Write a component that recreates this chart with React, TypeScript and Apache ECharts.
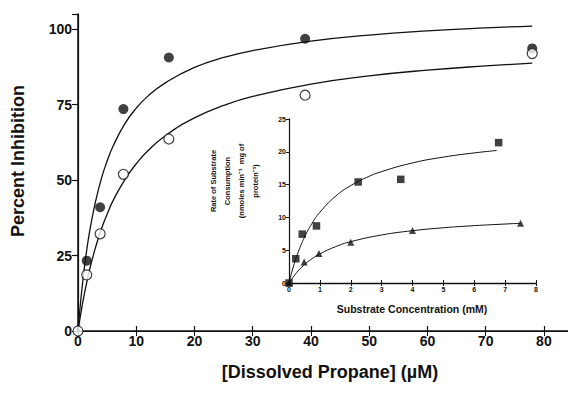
import React, { useEffect, useRef } from "react";
import * as echarts from "echarts";

// Main chart: percent inhibition vs dissolved propane (µM)
const filledX = [1.5, 3.8, 7.8, 15.6, 39, 78];
const filledY = [23.3, 41, 73.5, 90.6, 96.8, 93.6];
const openX = [0, 1.5, 3.8, 7.8, 15.6, 39, 78];
const openY = [0, 18.6, 32.2, 51.9, 63.6, 78.1, 91.9];

// Fitted curves
const curveX = [0, 0.5, 1, 1.5, 2, 3, 4, 5, 6, 8, 10, 12, 15, 20, 25, 30, 40, 50, 60, 70, 78];
const filledCurveY = [0, 10.7, 19.5, 26.8, 33.0, 42.8, 50.4, 56.3, 61.1, 68.5, 73.8, 77.8, 82.2, 87.3, 90.6, 92.9, 96.0, 98.0, 99.4, 100.4, 101.0];
const openCurveY = [0, 6.0, 11.4, 16.1, 20.4, 27.6, 33.7, 38.7, 43.1, 50.0, 55.4, 59.7, 64.7, 70.6, 74.7, 77.7, 81.8, 84.5, 86.4, 87.8, 88.7];

// Inset: rate of substrate consumption vs substrate concentration (mM)
const squareX = [0, 0.22, 0.43, 0.89, 2.24, 3.62, 6.79];
const squareY = [0, 3.7, 7.45, 8.7, 15.4, 15.8, 21.4];
const triX = [0, 0.49, 0.97, 2.0, 4.0, 7.5];
const triY = [0, 3.2, 4.5, 6.2, 8.0, 9.1];

const sqCurveX = [0, 0.1, 0.2, 0.3, 0.5, 0.75, 1, 1.5, 2, 2.5, 3, 4, 5, 6, 6.73];
const sqCurveY = [0, 1.82, 3.38, 4.73, 6.97, 9.12, 10.78, 13.19, 14.85, 16.06, 16.98, 18.3, 19.19, 19.83, 20.2];
const triCurveX = [0, 0.25, 0.5, 0.75, 1, 1.5, 2, 3, 4, 5, 6, 7, 7.5];
const triCurveY = [0, 1.6, 2.79, 3.71, 4.44, 5.52, 6.3, 7.32, 7.97, 8.42, 8.74, 8.99, 9.1];

const mainXTicks = [0, 10, 20, 30, 40, 50, 60, 70, 80];
const mainYTicks = [0, 25, 50, 75, 100];

const zip = (xs: number[], ys: number[]) => xs.map((x, i) => [x, ys[i]]);

const FONT = "'Liberation Sans', Arial, sans-serif";
const INK = "#111";

export default function App() {
  const ref = useRef<HTMLDivElement>(null);
  useEffect(() => {
    if (!ref.current) return;
    const chart = echarts.init(ref.current, undefined, { renderer: "svg" });
    const lineStyle = { color: INK, width: 1.3 };
    const thin = { color: INK, width: 1 };
    chart.setOption({
      animation: false,
      backgroundColor: "#fff",
      grid: [
        { left: 78, top: 14, width: 500, height: 317 },
        { left: 289, top: 119, width: 247, height: 164 },
      ],
      xAxis: [
        {
          type: "value", gridIndex: 0, min: 0, max: 85, interval: 10, position: "bottom",
          axisLine: { show: true, lineStyle: { color: INK, width: 1.5 } },
          axisTick: { show: true, inside: true, length: 5, lineStyle: { color: INK, width: 1.2 } },
          axisLabel: {
            margin: 3, color: INK, fontFamily: FONT, fontWeight: "bold", fontSize: 14,
            formatter: (v: number) => (mainXTicks.includes(v) ? String(v) : ""),
          },
          splitLine: { show: false },
        },
        {
          type: "value", gridIndex: 0, min: 0, max: 85, interval: 10, position: "top",
          axisLine: { show: true, lineStyle: { color: INK, width: 1.2 } },
          axisTick: { show: true, inside: true, length: 5, lineStyle: { color: INK, width: 1 } },
          axisLabel: { show: false },
          splitLine: { show: false },
        },
        {
          type: "value", gridIndex: 1, min: 0, max: 8, interval: 1, position: "bottom",
          axisLine: { show: true, lineStyle: { color: INK, width: 1.4 } },
          axisTick: { show: true, inside: true, length: 3, lineStyle: thin },
          axisLabel: { margin: 3, color: INK, fontFamily: FONT, fontWeight: "bold", fontSize: 7 },
          splitLine: { show: false },
        },
        {
          type: "value", gridIndex: 1, min: 0, max: 8, interval: 1, position: "top",
          axisLine: { show: true, lineStyle: { color: INK, width: 0.8 } },
          axisTick: { show: true, inside: true, length: 3, lineStyle: thin },
          axisLabel: { show: false },
          splitLine: { show: false },
        },
      ],
      yAxis: [
        {
          type: "value", gridIndex: 0, min: 0, max: 105, interval: 25, position: "left",
          axisLine: { show: true, lineStyle: { color: INK, width: 1.5 } },
          axisTick: { show: true, inside: false, length: 5, lineStyle: { color: INK, width: 1.2 } },
          axisLabel: {
            margin: 6, color: INK, fontFamily: FONT, fontWeight: "bold", fontSize: 14,
            formatter: (v: number) => (mainYTicks.includes(v) ? String(v) : ""),
          },
          splitLine: { show: false },
        },
        {
          type: "value", gridIndex: 0, min: 0, max: 105, interval: 25, position: "right",
          axisLine: { show: true, lineStyle: { color: INK, width: 1.2 } },
          axisTick: { show: true, inside: true, length: 6, lineStyle: { color: INK, width: 1 } },
          axisLabel: { show: false },
          splitLine: { show: false },
        },
        {
          type: "value", gridIndex: 1, min: 0, max: 25, interval: 5, position: "left",
          axisLine: { show: true, lineStyle: { color: "#333", width: 0.9, type: [4, 1] } },
          axisTick: { show: true, inside: false, length: 2, lineStyle: thin },
          axisLabel: { margin: 3, color: INK, fontFamily: FONT, fontWeight: "bold", fontSize: 7 },
          splitLine: { show: false },
        },
        {
          type: "value", gridIndex: 1, min: 0, max: 25, interval: 5, position: "right",
          axisLine: { show: true, lineStyle: { color: INK, width: 1.2 } },
          axisTick: { show: true, inside: true, length: 3, lineStyle: thin },
          axisLabel: { show: false },
          splitLine: { show: false },
        },
      ],
      series: [
        {
          type: "line", xAxisIndex: 0, yAxisIndex: 0, data: zip(curveX, filledCurveY),
          smooth: true, showSymbol: false, symbol: "none", lineStyle, z: 2,
        },
        {
          type: "line", xAxisIndex: 0, yAxisIndex: 0, data: zip(curveX, openCurveY),
          smooth: true, showSymbol: false, symbol: "none", lineStyle, z: 2,
        },
        {
          type: "scatter", xAxisIndex: 0, yAxisIndex: 0, data: zip(filledX, filledY),
          symbol: "circle", symbolSize: 10, itemStyle: { color: INK }, z: 3,
        },
        {
          type: "scatter", xAxisIndex: 0, yAxisIndex: 0, data: zip(openX, openY),
          symbol: "circle", symbolSize: 10,
          itemStyle: { color: "#fff", borderColor: INK, borderWidth: 1.2 }, z: 4,
        },
        {
          type: "line", xAxisIndex: 2, yAxisIndex: 2, data: zip(sqCurveX, sqCurveY),
          smooth: true, showSymbol: false, symbol: "none", lineStyle: { color: INK, width: 1 }, z: 2,
        },
        {
          type: "line", xAxisIndex: 2, yAxisIndex: 2, data: zip(triCurveX, triCurveY),
          smooth: true, showSymbol: false, symbol: "none", lineStyle: { color: INK, width: 1 }, z: 2,
        },
        {
          type: "scatter", xAxisIndex: 2, yAxisIndex: 2, data: zip(squareX, squareY),
          symbol: "rect", symbolSize: 7.5, itemStyle: { color: INK }, z: 3,
        },
        {
          type: "scatter", xAxisIndex: 2, yAxisIndex: 2, data: zip(triX, triY),
          symbol: "triangle", symbolSize: 7, itemStyle: { color: INK }, z: 3,
        },
      ],
      graphic: [
        {
          type: "text", x: 18, y: 161, rotation: Math.PI / 2,
          style: {
            text: "Percent Inhibition", fill: INK, font: `bold 18px ${FONT}`,
            textAlign: "center", textVerticalAlign: "middle",
          },
        },
        {
          type: "text", x: 330, y: 372,
          style: {
            text: "[Dissolved Propane] (µM)", fill: INK, font: `bold 18px ${FONT}`,
            textAlign: "center", textVerticalAlign: "middle",
          },
        },
        {
          type: "text", x: 412, y: 309,
          style: {
            text: "Substrate Concentration (mM)", fill: INK, font: `bold 10.5px ${FONT}`,
            textAlign: "center", textVerticalAlign: "middle",
          },
        },
        {
          type: "text", x: 234, y: 181, rotation: Math.PI / 2,
          style: {
            text: "Rate of Substrate\nConsumption\n(nmoles min⁻¹  mg of\nprotein⁻¹)",
            fill: INK, font: `bold 7.5px ${FONT}`, lineHeight: 14,
            textAlign: "center", textVerticalAlign: "middle",
          },
        },
      ],
    });
    return () => chart.dispose();
  }, []);
  return <div ref={ref} style={{ width: 576, height: 394, margin: -8 }} />;
}
